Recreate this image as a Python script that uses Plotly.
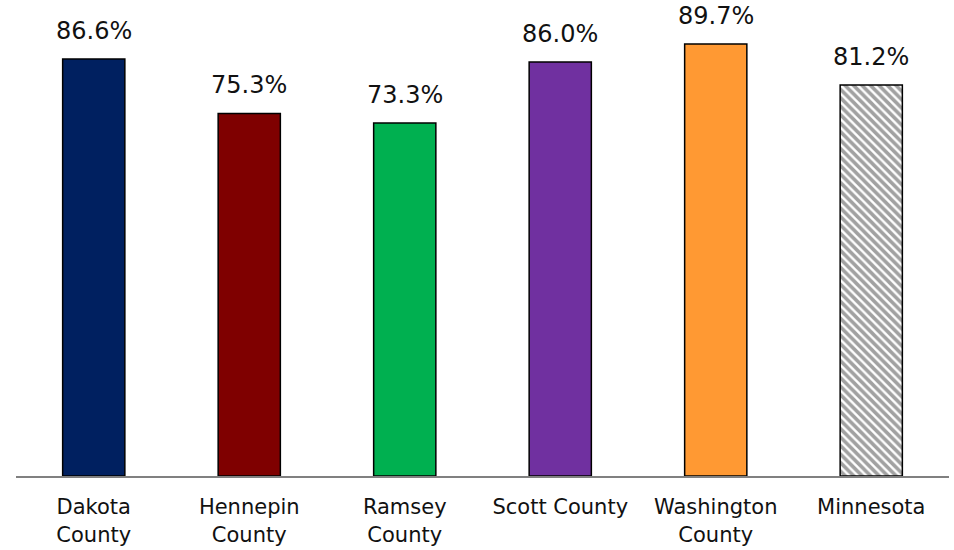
import plotly.graph_objects as go

# Données
categories = ["Dakota<br>County", "Hennepin<br>County", "Ramsey<br>County",
              "Scott County", "Washington<br>County", "Minnesota"]
valeurs = [86.6, 75.3, 73.3, 86.0, 89.7, 81.2]
couleurs = ["#002060", "#7f0000", "#00b050", "#7030a0", "#ff9933", "#ffffff"]
motifs = ["", "", "", "", "", "\\"]

FONT = "DejaVu Sans"

fig = go.Figure()

fig.add_trace(go.Bar(
    x=categories,
    y=valeurs,
    marker=dict(
        color=couleurs,
        line=dict(color="#000000", width=1.5),
        pattern=dict(shape=motifs, fgcolor="#000000", bgcolor="#ffffff",
                     size=6, solidity=0.6),
    ),
    width=0.4,
    showlegend=False,
    hoverinfo="skip",
))

# Étiquettes des valeurs au-dessus des barres
for cat, val in zip(categories, valeurs):
    fig.add_annotation(
        x=cat, y=val, text=f"{val:.1f}%",
        showarrow=False, yanchor="bottom", yshift=12,
        font=dict(family=FONT, size=24, color="#111111"),
    )

fig.update_layout(
    width=954, height=550,
    margin=dict(l=16, r=5, t=20, b=74),
    plot_bgcolor="white",
    paper_bgcolor="white",
    xaxis=dict(
        showline=True, linecolor="#808080", linewidth=2,
        ticks="", tickfont=dict(family=FONT, size=21, color="#111111"),
        ticklabelstandoff=11, automargin=False,
        showgrid=False,
    ),
    yaxis=dict(
        range=[0, 94.7], visible=False, showgrid=False, zeroline=False,
        automargin=False,
    ),
)

# Pas de marge autour du graphique dans la page, pas de barre d'outils
fig.write_html("out.html", config={"displayModeBar": False},
               post_script="document.body.style.margin='0';")
